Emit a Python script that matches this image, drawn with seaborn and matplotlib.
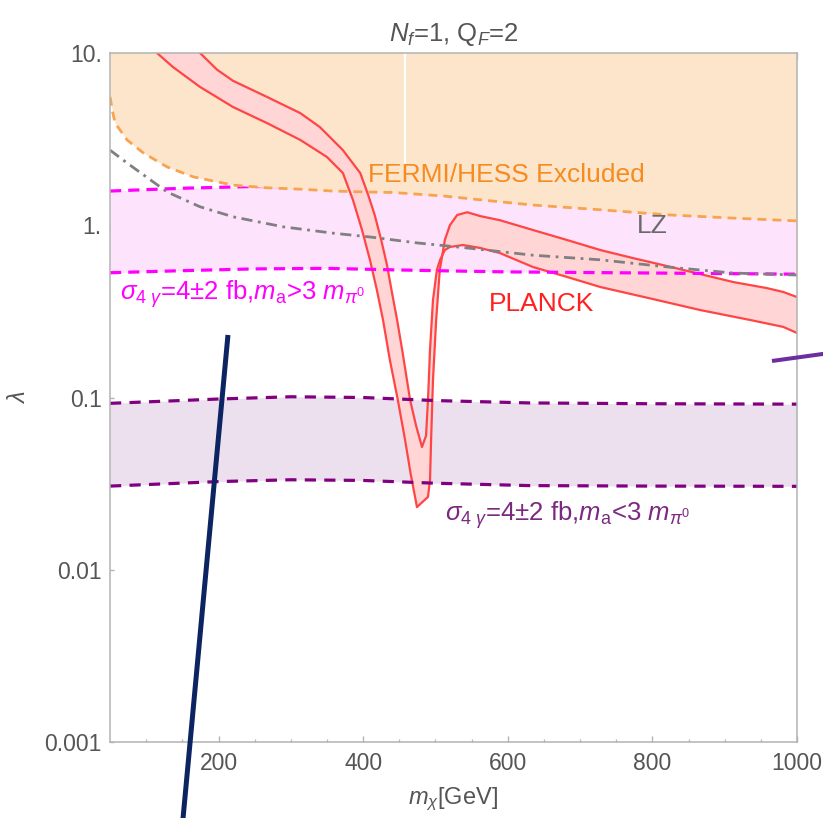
import numpy as np
import pandas as pd
import matplotlib
matplotlib.use("Agg")
import matplotlib.pyplot as plt
from matplotlib.lines import Line2D
import seaborn as sns

# ---------------- data ----------------
x_fermi = [50, 53, 57, 73.5, 96, 129, 165, 220, 267, 313, 358, 405, 441, 510, 566, 635, 728, 820, 912, 1000]
y_fermi = [5.56, 4.67, 3.92, 3.13, 2.63, 2.18, 1.91, 1.71, 1.65, 1.62, 1.58, 1.56, 1.55, 1.48, 1.40, 1.31, 1.23, 1.15, 1.10, 1.06]

x_mag = [50, 150, 250, 350, 450, 520, 600, 800, 1000]
y_mag_hi = [1.58, 1.64, 1.68, 1.66, 1.62, 1.58, 1.55, 1.52, 1.50]
y_mag_lo = [0.53, 0.545, 0.558, 0.562, 0.55, 0.543, 0.536, 0.528, 0.52]

x_pur = [50, 200, 300, 400, 500, 630, 800, 1000]
y_pur_hi = [0.0925, 0.098, 0.101, 0.100, 0.096, 0.093, 0.092, 0.0915]
y_pur_lo = [0.0306, 0.0325, 0.0333, 0.0330, 0.0318, 0.0308, 0.0306, 0.0305]

x_lz = [50, 73.5, 129, 174.5, 220, 289, 358, 409.5, 474.5, 544, 635, 728, 820, 911.5, 1000]
y_lz = [2.73, 2.30, 1.56, 1.28, 1.12, 0.98, 0.90, 0.855, 0.79, 0.738, 0.67, 0.63, 0.573, 0.528, 0.514]

x_planck_out = [110, 115, 137, 174.5, 220, 267, 313, 350, 372, 386, 398.5, 409.5, 419, 427.5, 437, 448, 458,
                466, 474.5, 489.7, 492.5, 494, 496.6, 501, 506, 513, 520, 530, 544, 562, 589, 635, 682, 728,
                773, 820, 866, 912, 958, 981, 1000]
y_planck_out = [10.8, 10.0, 8.29, 6.35, 4.86, 3.92, 3.13, 2.49, 2.01, 1.40, 0.938, 0.628, 0.421, 0.282, 0.165,
                0.0967, 0.0567, 0.0355, 0.0231, 0.0265, 0.0332, 0.0567, 0.126, 0.282, 0.55, 0.821, 1.00, 1.147,
                1.19, 1.13, 1.07, 0.938, 0.821, 0.718, 0.645, 0.58, 0.521, 0.468, 0.432, 0.410, 0.383]

x_planck_in = [160, 174.5, 198, 220, 267, 313, 340, 372, 396, 407, 416, 425, 433, 440, 447, 454, 465, 473, 481.4,
               487, 489.7, 492.5, 496.6, 502, 506.3, 513, 520, 538, 562, 589, 635, 682, 728, 797, 866, 935,
               981, 1000]
y_planck_in = [11.1, 10.0, 8.0, 6.9, 5.56, 4.48, 3.72, 2.73, 2.01, 1.50, 1.147, 0.821, 0.588, 0.404, 0.282, 0.189,
               0.0967, 0.0692, 0.0516, 0.060, 0.0967, 0.189, 0.368, 0.55, 0.628, 0.718, 0.748, 0.768, 0.738,
               0.690, 0.572, 0.501, 0.438, 0.376, 0.322, 0.282, 0.257, 0.237]

# white rendering seam in the excluded region
x_seam = 458
y_seam = [2.25, 10.0]

x_ticks = [200, 400, 600, 800, 1000]
y_ticks = [0.001, 0.01, 0.1, 1, 10]
y_tick_labels = ["0.001", "0.01", "0.1", "1.", "10."]

title = r"$N_f$=1, Q$_{F}$=2"
label_fermi = "FERMI/HESS Excluded"
label_lz = "LZ"
label_planck = "PLANCK"
label_mag = r"$\sigma_{4\ \gamma}$=4±2 fb,$m_{\rm a}$>3 $m_{\pi^0}$"
label_pur = r"$\sigma_{4\ \gamma}$=4±2 fb,$m_{\rm a}$<3 $m_{\pi^0}$"

# hand-drawn overlay strokes (figure fraction)
navy_stroke = ([0.2770, 0.2205], [0.5905, -0.0208])
purple_stroke = ([0.9380, 1.0085], [0.5587, 0.5685])

# ---------------- style ----------------
sns.set_theme(style="white")
plt.rcParams["font.family"] = ["Liberation Sans", "DejaVu Sans"]
plt.rcParams["mathtext.fontset"] = "custom"
plt.rcParams["mathtext.rm"] = "Liberation Sans"
plt.rcParams["mathtext.it"] = "Liberation Sans:italic"
plt.rcParams["mathtext.bf"] = "Liberation Sans:bold"

C_OR_FILL = "#fde5cb"
C_OR_LINE = "#f7a350"
C_OR_TEXT = "#f68b1f"
C_MAG_FILL = "#fde3fc"
C_MAG = "#ff00ff"
C_PUR_FILL = "#ede0ee"
C_PUR = "#800080"
C_PL_FILL = "#ffd5d5"
C_PL = "#ff4545"
C_LZ = "#808080"
C_AX = "#b3b3b3"
C_TXT = "#555555"

fig = plt.figure(figsize=(8.23, 8.18), dpi=100)
ax = fig.add_axes([0.1337, 0.0929, 0.8347, 0.8423])

# bands
ax.fill_between(x_pur, y_pur_lo, y_pur_hi, color=C_PUR_FILL, lw=0, zorder=1)
ax.fill_between(x_mag, y_mag_lo, y_mag_hi, color=C_MAG_FILL, lw=0, zorder=1)
sns.lineplot(x=x_mag, y=y_mag_hi, ax=ax, color=C_MAG, lw=2.3, estimator=None, sort=False,
             linestyle=(0, (3.5, 2.2)), zorder=2)
ax.fill_between(x_fermi, y_fermi, 30, color=C_OR_FILL, lw=0, zorder=3)
ax.vlines(x_seam, y_seam[0], y_seam[1], color="white", lw=1.6, zorder=3.5)

# PLANCK band
poly_x = x_planck_out + x_planck_in[::-1]
poly_y = y_planck_out + y_planck_in[::-1]
ax.fill(poly_x, poly_y, color=C_PL_FILL, lw=0, zorder=4)
sns.lineplot(x=x_planck_out, y=y_planck_out, ax=ax, color=C_PL, lw=1.6, estimator=None, sort=False, zorder=5)
sns.lineplot(x=x_planck_in, y=y_planck_in, ax=ax, color=C_PL, lw=1.6, estimator=None, sort=False, zorder=5)

# dashed boundaries
sns.lineplot(x=x_fermi, y=y_fermi, ax=ax, color=C_OR_LINE, lw=2.0, estimator=None, sort=False,
             linestyle=(0, (3.2, 2.2)), zorder=6)
sns.lineplot(x=x_mag, y=y_mag_lo, ax=ax, color=C_MAG, lw=2.3, estimator=None, sort=False,
             linestyle=(0, (3.5, 2.2)), zorder=6)
sns.lineplot(x=x_pur, y=y_pur_hi, ax=ax, color=C_PUR, lw=2.3, estimator=None, sort=False,
             linestyle=(0, (3.5, 2.6)), zorder=6)
sns.lineplot(x=x_pur, y=y_pur_lo, ax=ax, color=C_PUR, lw=2.3, estimator=None, sort=False,
             linestyle=(0, (3.5, 2.6)), zorder=6)
sns.lineplot(x=x_lz, y=y_lz, ax=ax, color=C_LZ, lw=2.0, estimator=None, sort=False,
             linestyle=(0, (4.0, 2.0, 1.0, 2.0)), zorder=7)

# axes
ax.set_yscale("log")
ax.set_xlim(50, 1000)
ax.set_ylim(0.001, 10)
ax.set_xticks(x_ticks)
ax.set_xticklabels([str(t) for t in x_ticks])
ax.set_xticks(np.arange(100, 1000, 50), minor=True)
ax.set_yticks(y_ticks)
ax.set_yticklabels(y_tick_labels)
ax.yaxis.set_minor_locator(matplotlib.ticker.NullLocator())
ax.tick_params(axis="x", which="both", direction="in", top=True, bottom=True, colors=C_AX,
               labelcolor=C_TXT, labelsize=16.5, pad=7)
ax.tick_params(axis="x", which="major", length=4, width=1.0)
ax.tick_params(axis="x", which="minor", length=2.5, width=0.9)
ax.tick_params(axis="y", which="major", direction="in", left=True, right=False, length=3, width=1.0,
               colors=C_AX, labelcolor=C_TXT, labelsize=16.5, pad=6)
for s in ax.spines.values():
    s.set_color(C_AX)
    s.set_linewidth(1.1)
    s.set_zorder(10)

ax.set_xlabel(r"$m_\chi$[GeV]", fontsize=17, color=C_TXT, labelpad=8)
ax.set_ylabel(r"$\lambda$", fontsize=17, color=C_TXT, labelpad=10)
ax.set_title(title, fontsize=18.5, color=C_TXT, pad=9)

# annotations
ax.text(406.8, 1.96, label_fermi, color=C_OR_TEXT, fontsize=19, ha="left", va="center", zorder=8)
ax.text(799.5, 0.99, label_lz, color="#6a6a6a", fontsize=19, ha="center", va="center", zorder=8)
ax.text(647, 0.349, label_planck, color="#ff2020", fontsize=19, ha="center", va="center", zorder=8)
ax.text(63.8, 0.40, label_mag, color=C_MAG, fontsize=18.5, ha="left", va="center", zorder=8)
ax.text(513, 0.0208, label_pur, color="#7b2a80", fontsize=18.5, ha="left", va="center", zorder=8)

# overlay strokes
fig.add_artist(Line2D(navy_stroke[0], navy_stroke[1], transform=fig.transFigure, color="#0c2461",
                      lw=3.6, solid_capstyle="butt", zorder=20))
fig.add_artist(Line2D(purple_stroke[0], purple_stroke[1], transform=fig.transFigure, color="#6c2ea0",
                      lw=2.9, solid_capstyle="butt", zorder=20))

fig.savefig("out.png", dpi=100)
